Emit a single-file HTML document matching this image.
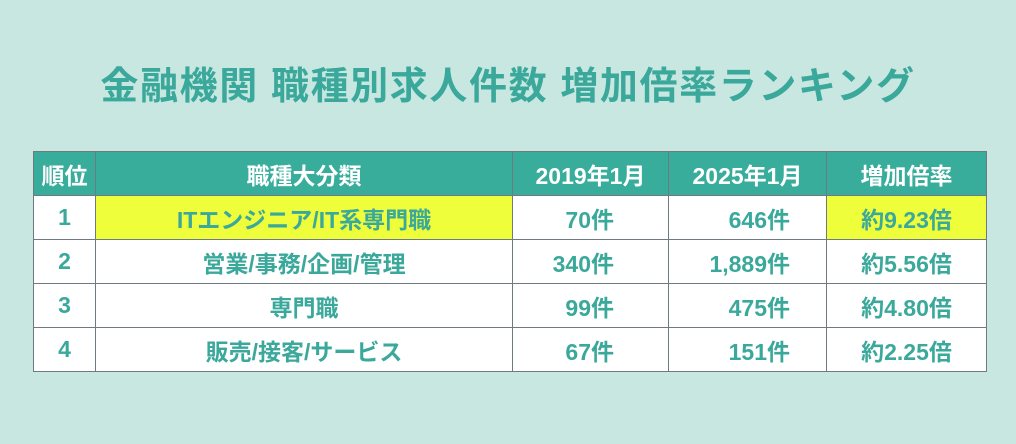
<!DOCTYPE html>
<html><head><meta charset="utf-8"><style>
body{margin:0;width:1016px;height:444px;background:#c8e7e1;font-family:"Liberation Sans","Noto Sans CJK JP",sans-serif;font-weight:bold;overflow:hidden;position:relative}
h1{position:absolute;top:63px;left:0;width:1016px;margin:0;text-align:center;font-size:38px;line-height:48px;color:#3aa89a;letter-spacing:1.6px}
table{position:absolute;left:33px;top:151px;border-collapse:collapse;font-size:23px}
td,th{border:1px solid #6f7a80;height:43px;padding:0;text-align:center;color:#3aa89a;background:#fff}
th{background:#38ad9c;color:#fff;font-weight:bold}
.y{background:#eefe3a}
.r1{text-align:right;padding-right:54px}
.r2{text-align:right;padding-right:36px}
</style></head><body>
<h1>金融機関 職種別求人件数 増加倍率ランキング</h1>
<table>
<colgroup><col style="width:62px"><col style="width:417px"><col style="width:156px"><col style="width:158px"><col style="width:160px"></colgroup>
<tr><th>順位</th><th>職種大分類</th><th>2019年1月</th><th>2025年1月</th><th>増加倍率</th></tr>
<tr><td>1</td><td class="y">ITエンジニア/IT系専門職</td><td class="r1">70件</td><td class="r2">646件</td><td class="y">約9.23倍</td></tr>
<tr><td>2</td><td>営業/事務/企画/管理</td><td class="r1">340件</td><td class="r2">1,889件</td><td>約5.56倍</td></tr>
<tr><td>3</td><td>専門職</td><td class="r1">99件</td><td class="r2">475件</td><td>約4.80倍</td></tr>
<tr><td>4</td><td>販売/接客/サービス</td><td class="r1">67件</td><td class="r2">151件</td><td>約2.25倍</td></tr>
</table>
</body></html>
